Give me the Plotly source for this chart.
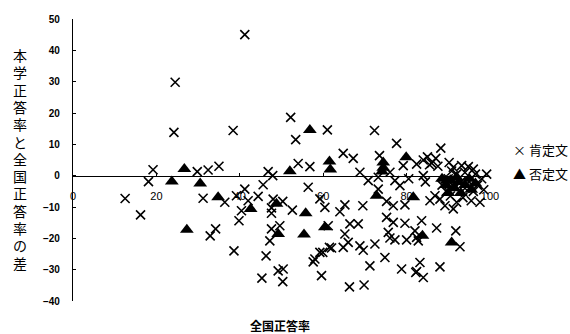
import plotly.graph_objects as go

# 全国正答率 (x) と 本学正答率との差 (y)
pos_x = [12.5, 16.2, 18.1, 19.2, 24.2, 24.5, 29.8, 32.4, 35.0, 31.2, 36.4, 32.9, 34.2,
         38.6, 38.4, 41.2, 39.2, 39.8, 40.4,
         41.2, 44.4, 42.0, 45.6, 46.8, 47.9, 48.0, 50.3, 47.6, 47.6, 52.6, 49.6, 47.6,
         47.2, 46.3, 49.2, 50.4, 50.3, 45.3, 52.2, 53.4, 54.0, 56.8, 56.4, 59.2, 59.2,
         60.4, 61.5, 59.9, 58.0, 57.6, 59.6, 61.0, 61.2,
         64.8, 67.2, 72.3, 77.6, 73.5, 79.2, 82.4, 68.8, 70.8, 73.2, 76.0, 77.2, 78.4,
         73.2, 75.2, 76.8, 79.6, 69.5, 65.2, 64.0, 75.2, 76.8, 79.6, 66.4, 68.4, 65.2,
         75.6, 76.0, 77.2, 80.0, 82.4, 72.4, 66.0, 68.8, 69.6, 64.8, 62.0, 74.8, 71.2,
         78.8, 82.4, 66.3, 69.8,
         88.2, 84.0, 85.0, 86.0, 87.0, 85.5, 87.5, 90.2, 91.2, 93.2, 94.8, 96.0, 84.0,
         99.2, 97.6, 85.6, 86.8, 88.0, 89.2, 91.2, 83.6, 82.0, 82.8, 87.2, 91.8, 92.8,
         83.2, 88.0, 84.0, 82.2, 90.0, 91.0, 92.0, 93.0, 94.0, 95.0, 96.0, 97.0, 98.0,
         93.5, 95.5, 90.5, 92.0, 88.5, 89.5, 96.5, 98.5, 94.0, 90.8, 84.5, 80.5]
pos_y = [-7.3, -12.5, -1.9, 1.9, 13.8, 29.8, 1.3, 1.8, 3.0, -7.2, -8.5, -19.2, -17.0,
         -24.0, 14.4, 45.0, -6.4, -14.4, -11.2,
         -4.3, -6.6, -8.0, -2.9, 1.3, 0.0, -7.5, -8.2, -10.3, -12.0, -11.0, -16.0, -17.0,
         -20.8, -25.6, -30.4, -29.8, -33.8, -32.7, 18.6, 11.5, 3.9, 2.9, -3.7, -7.4, -24.5,
         -10.1, -22.9, -24.5, -26.6, -27.5, -31.9, 14.6, -16.0,
         7.1, 5.5, 14.4, 10.3, 6.4, 3.2, 3.7, 1.1, -1.6, -0.5, 1.1, -1.6, -3.2,
         -4.3, -8.2, -9.6, -9.3, -9.6, -9.3, -11.5, -13.3, -14.9, -15.2, -15.4, -15.4, -18.6,
         -18.1, -19.9, -20.5, -20.5, -19.7, -21.8, -21.3, -22.4, -23.8, -22.9, -23.1, -26.1, -28.8,
         -29.8, -30.6, -35.5, -34.9,
         8.8, 5.0, 6.0, 4.0, 5.5, 3.5, 3.0, 4.2, 2.7, 3.2, 2.9, 2.1, 0.0,
         0.5, -8.5, -8.0, -6.4, -7.5, -9.6, -10.6, -14.4, -17.6, -20.8, -16.7, -17.6, -22.7,
         -27.7, -29.1, -32.5, -30.9, -1.0, -3.0, 0.5, -2.0, -4.0, -2.0, -5.0, -3.0, -1.0,
         -7.0, -8.0, -6.5, -8.5, -3.0, -5.0, 0.5, -4.5, 1.0, 1.5, -2.0, -1.0]

neg_x = [26.7, 23.7, 30.5, 34.8, 27.3, 42.6, 48.8, 52.0, 56.8, 55.8, 49.2, 55.4, 60.4,
         61.5, 61.7, 72.8, 74.4, 74.4, 74.1, 79.9, 81.6, 83.8, 90.8,
         88.5, 89.5, 90.5, 91.5, 92.5, 93.0, 94.0, 95.0, 95.5, 96.5, 92.0, 90.0, 89.6]
neg_y = [2.1, -1.9, -2.5, -6.9, -17.3, -10.6, -9.0, 1.4, 14.6, -12.0, -18.6, -18.8, -16.5,
         4.5, 2.0, -6.4, 4.2, 2.5, 1.3, 5.9, -6.9, -19.2, -21.3,
         -1.0, -3.0, -1.5, -4.0, -2.0, -5.5, -3.0, -1.0, -4.5, -2.5, -0.5, -5.5, -1.6]

series_names = ["肯定文", "否定文"]
legend_keys = ["×", "▲"]
x_ticks = [0, 20, 40, 60, 80, 100]
y_ticks = [-40, -30, -20, -10, 0, 10, 20, 30, 40, 50]
y_title = "本学正答率と全国正答率の差"
x_title = "全国正答率"

cjk = "Noto Sans CJK JP"

fig = go.Figure()
fig.add_trace(go.Scatter(
    x=pos_x, y=pos_y, mode="markers", name=series_names[0], showlegend=False,
    marker=dict(symbol="x-thin", size=9, color="black",
                line=dict(color="black", width=1.6)),
    cliponaxis=False))
fig.add_trace(go.Scatter(
    x=neg_x, y=neg_y, mode="markers", name=series_names[1], showlegend=False,
    marker=dict(symbol="triangle-up", size=12, color="black",
                line=dict(width=0)),
    cliponaxis=False))

plot_l, plot_w = 73, 417
plot_t, plot_h = 19, 282

fig.update_layout(
    width=570, height=334,
    margin=dict(l=plot_l, r=570 - plot_l - plot_w, t=plot_t, b=334 - plot_t - plot_h),
    paper_bgcolor="white", plot_bgcolor="white",
    xaxis=dict(range=[0, 100], anchor="free", position=40 / 90,
               showline=True, linecolor="black", linewidth=1.2,
               showgrid=False, zeroline=False,
               tickvals=x_ticks, ticks="inside", ticklen=3, tickcolor="black",
               ticklabelstandoff=10,
               tickfont=dict(family="Liberation Sans", size=11, color="black")),
    yaxis=dict(range=[-40, 50], showline=True, linecolor="black", linewidth=1.2,
               showgrid=False, zeroline=False,
               tickvals=y_ticks, ticks="inside", ticklen=3, tickcolor="black",
               ticklabelstandoff=10,
               tickfont=dict(family="Liberation Sans", size=10, color="black",
                             weight="bold")),
)

# Vertical y-axis title: upright characters stacked top to bottom
char_pitch = 17.3
first_center = 56
for i, ch in enumerate(y_title):
    cy = first_center + i * char_pitch
    fig.add_annotation(text=ch, xref="paper", yref="paper",
                       x=(20 - plot_l) / plot_w, y=1 - (cy - plot_t) / plot_h,
                       xanchor="center", yanchor="middle", showarrow=False,
                       borderpad=0,
                       font=dict(family=f"Liberation Sans, {cjk}", size=14,
                                 color="black"))

fig.add_annotation(text=x_title, xref="paper", yref="paper",
                   x=(280 - plot_l) / plot_w, y=-(325 - plot_t - plot_h) / plot_h,
                   xanchor="center", yanchor="middle", showarrow=False,
                   font=dict(family=cjk, size=12, color="black", weight="bold"))

# Series key on the right of the plot
for i, (key, name) in enumerate(zip(legend_keys, series_names)):
    fig.add_annotation(text=f"{key} {name}", xref="paper", yref="paper",
                       x=(511 - plot_l) / plot_w,
                       y=1 - (149 + 24 * i - plot_t) / plot_h,
                       xanchor="left", yanchor="middle", showarrow=False,
                       font=dict(family=cjk, size=13, color="black"))

fig.write_html("out.html")
